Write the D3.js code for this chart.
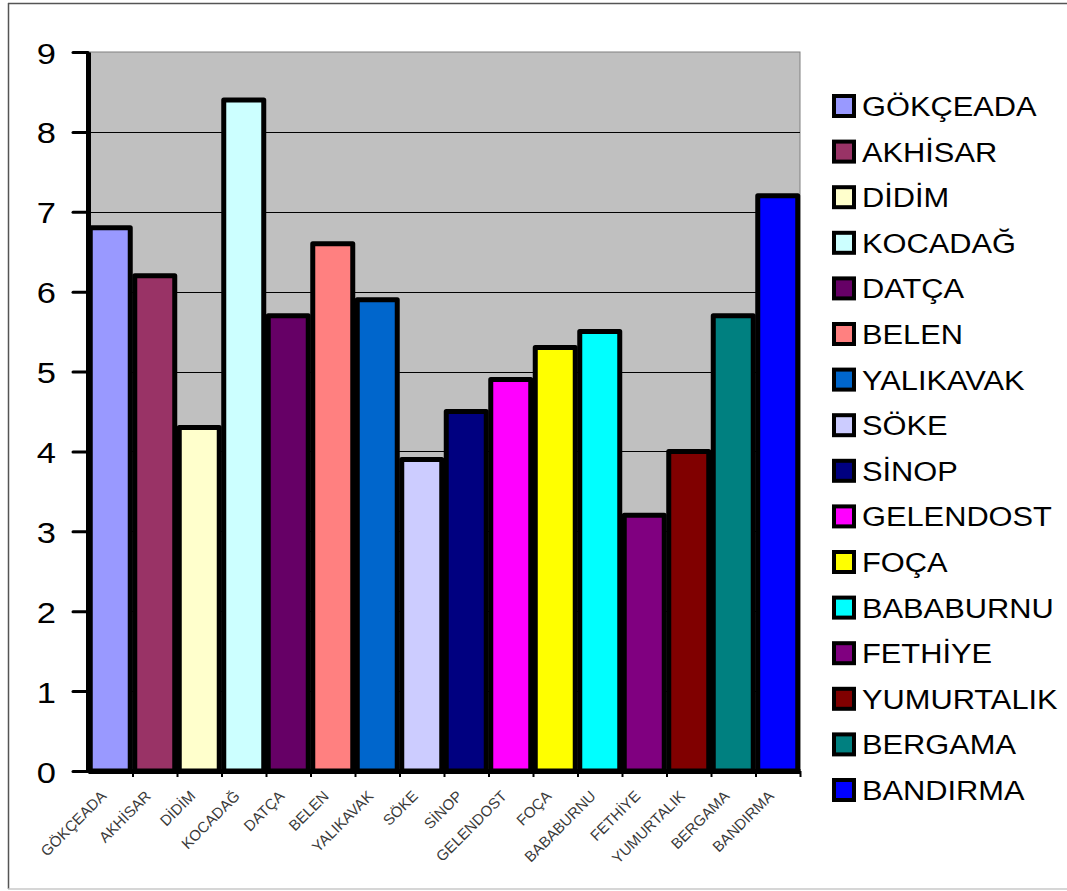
<!DOCTYPE html>
<html>
<head>
<meta charset="utf-8">
<script src="https://cdn.jsdelivr.net/npm/d3@7"></script>
<style>
  html, body { margin: 0; padding: 0; background: #fff; }
  svg { display: block; font-family: "Liberation Sans", Arial, sans-serif; }
</style>
</head>
<body>
<svg id="chart" width="1067" height="891"></svg>
<script>
// Stations and their values
const categories = ["GÖKÇEADA", "AKHİSAR", "DİDİM", "KOCADAĞ", "DATÇA", "BELEN", "YALIKAVAK", "SÖKE",
  "SİNOP", "GELENDOST", "FOÇA", "BABABURNU", "FETHİYE", "YUMURTALIK", "BERGAMA", "BANDIRMA"];
const values = [6.8, 6.2, 4.3, 8.4, 5.7, 6.6, 5.9, 3.9, 4.5, 4.9, 5.3, 5.5, 3.2, 4.0, 5.7, 7.2];
const colors = ["#9999ff", "#993366", "#ffffcc", "#ccffff", "#660066", "#ff8080", "#0066cc", "#ccccff",
  "#000080", "#ff00ff", "#ffff00", "#00ffff", "#800080", "#800000", "#008080", "#0000ff"];
const yTicks = [0, 1, 2, 3, 4, 5, 6, 7, 8, 9];

const svg = d3.select("#chart");
const W = 1067, H = 891;
const plot = { left: 88, right: 800, top: 52, bottom: 771 };

// Outer frame
const frame = svg.append("g");
frame.append("line").attr("x1", 8.5).attr("x2", 8.5).attr("y1", 3).attr("y2", 889)
  .attr("stroke", "#555").attr("stroke-width", 1.5);
frame.append("line").attr("x1", 8).attr("x2", W).attr("y1", 3.5).attr("y2", 3.5)
  .attr("stroke", "#555").attr("stroke-width", 1.5);
frame.append("line").attr("x1", 8).attr("x2", W).attr("y1", 889).attr("y2", 889)
  .attr("stroke", "#c8c8c8").attr("stroke-width", 1.5);

const x = d3.scaleBand().domain(categories).range([plot.left, plot.right]).paddingInner(0).paddingOuter(0);
const y = d3.scaleLinear().domain([0, 9]).range([plot.bottom, plot.top]);

// Plot background
svg.append("rect")
  .attr("x", plot.left).attr("y", plot.top)
  .attr("width", plot.right - plot.left).attr("height", plot.bottom - plot.top)
  .attr("fill", "#c0c0c0").attr("stroke", "#808080").attr("stroke-width", 1);

// Horizontal gridlines
svg.append("g")
  .selectAll("line")
  .data(yTicks.filter(t => t > 0 && t < 9))
  .join("line")
  .attr("x1", plot.left).attr("x2", plot.right)
  .attr("y1", d => Math.round(y(d)) + 0.5).attr("y2", d => Math.round(y(d)) + 0.5)
  .attr("stroke", "#000").attr("stroke-width", 1);

// Bars
const inset = 2.25;
svg.append("g")
  .selectAll("rect")
  .data(categories)
  .join("rect")
  .attr("x", d => x(d) + inset)
  .attr("width", x.bandwidth() - 2 * inset)
  .attr("y", (d, i) => y(values[i]))
  .attr("height", (d, i) => y(0) - y(values[i]))
  .attr("fill", (d, i) => colors[i])
  .attr("stroke", "#000")
  .attr("stroke-width", 5)
  .attr("stroke-linejoin", "round");

// Y axis
const yTickLen = 15, yPad = 17;
const yAxis = svg.append("g")
  .attr("transform", `translate(${plot.left},0)`)
  .call(d3.axisLeft(y).tickValues(yTicks).tickSize(yTickLen).tickSizeOuter(0).tickPadding(yPad).tickFormat(d3.format("d")));
yAxis.select(".domain").attr("stroke", "#000").attr("stroke-width", 5);
yAxis.selectAll(".tick line").attr("stroke", "#000").attr("stroke-width", 3).attr("stroke-linecap", "round");
yAxis.selectAll(".tick text")
  .attr("x", null).attr("dy", null)
  .attr("transform", `translate(${-(yTickLen + yPad)},11) scale(1.15,1)`)
  .attr("font-size", 30).attr("font-family", "'Liberation Sans', Arial, sans-serif")
  .attr("fill", "#000");

// X axis: line with ticks at band boundaries
const xEdge = d3.scaleLinear().domain([0, categories.length]).range([plot.left, plot.right]);
const xAxis = svg.append("g")
  .attr("transform", `translate(0,${plot.bottom})`)
  .call(d3.axisBottom(xEdge).tickValues(d3.range(1, categories.length + 1)).tickSize(6).tickSizeOuter(0).tickFormat(""));
xAxis.select(".domain").attr("stroke", "#000").attr("stroke-width", 5);
xAxis.selectAll(".tick line").attr("stroke", "#000").attr("stroke-width", 2);

// Rotated category labels
svg.append("g")
  .selectAll("text")
  .data(categories)
  .join("text")
  .attr("transform", d => `translate(${x(d) + x.bandwidth() / 2 - 3},${plot.bottom + 26}) rotate(-45)`)
  .attr("text-anchor", "end")
  .attr("font-size", 15)
  .attr("fill", "#3a3a3a")
  .text(d => d);

// Legend
const legend = svg.append("g");
const rowY0 = 106, rowStep = 45.6;
const rows = legend.selectAll("g")
  .data(categories)
  .join("g")
  .attr("transform", (d, i) => `translate(0,${rowY0 + i * rowStep})`);
rows.append("rect")
  .attr("x", 834).attr("y", -10).attr("width", 20).attr("height", 20)
  .attr("fill", (d, i) => colors[i])
  .attr("stroke", "#000").attr("stroke-width", 4);
rows.append("text")
  .attr("transform", "translate(862,10) scale(1.1,1)")
  .attr("font-size", 28)
  .attr("fill", "#000")
  .text(d => d);
</script>
</body>
</html>
